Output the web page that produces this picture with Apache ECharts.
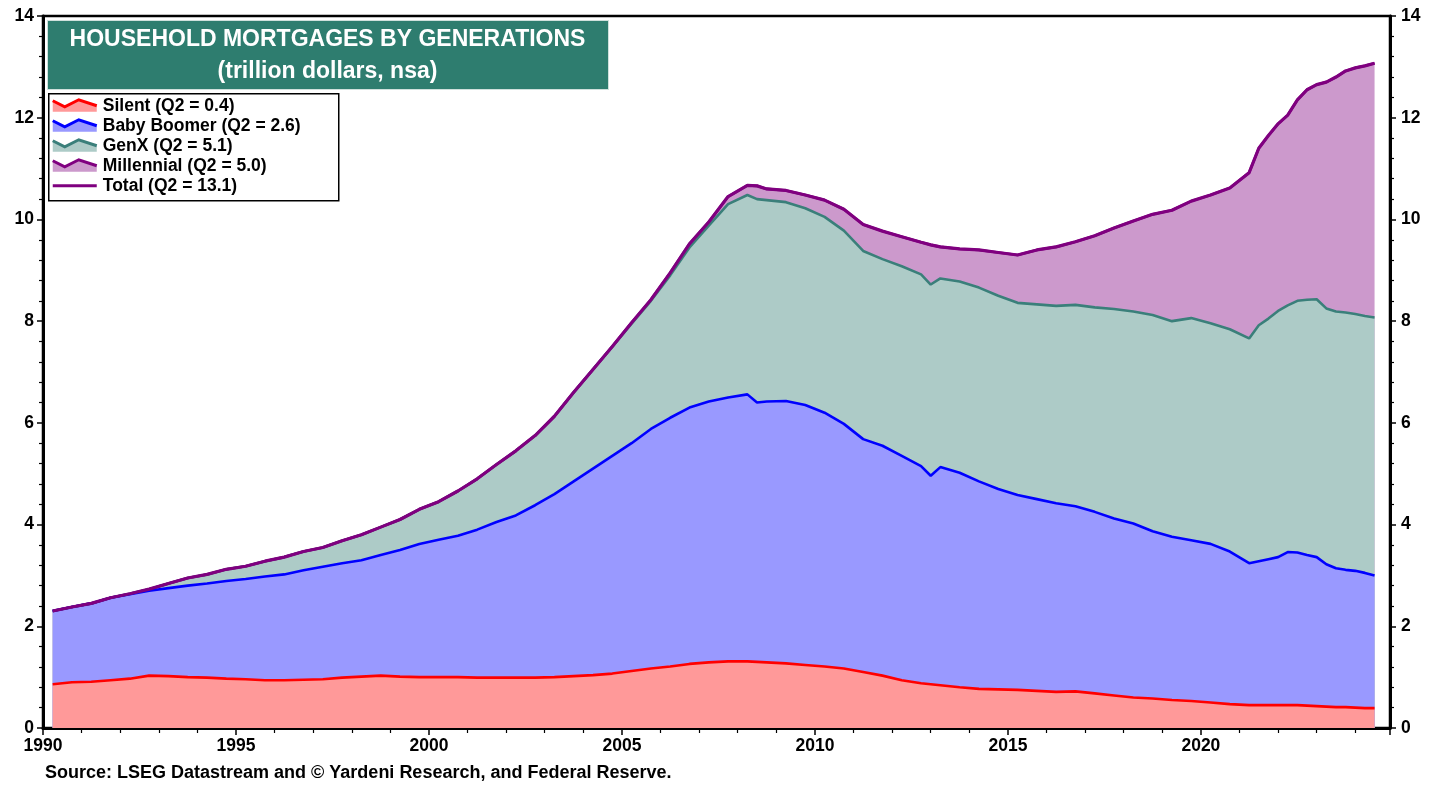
<!DOCTYPE html>
<html>
<head>
<meta charset="utf-8">
<script src="https://cdn.jsdelivr.net/npm/echarts@6/dist/echarts.min.js"></script>
<style>
  html, body { margin: 0; padding: 0; background: #ffffff; }
  #chart { width: 1442px; height: 791px; }
</style>
</head>
<body>
<div id="chart"></div>
<script>
// ---- Data (trillion dollars, nsa) ----
const dates = [
  1990.25, 1990.75, 1991.25, 1991.75, 1992.25, 1992.75, 1993.25, 1993.75, 1994.25, 1994.75,
  1995.25, 1995.75, 1996.25, 1996.75, 1997.25, 1997.75, 1998.25, 1998.75, 1999.25, 1999.75,
  2000.25, 2000.75, 2001.25, 2001.75, 2002.25, 2002.75, 2003.25, 2003.75, 2004.25, 2004.75,
  2005.25, 2005.75, 2006.25, 2006.75, 2007.25, 2007.75, 2008.25, 2008.5, 2008.75, 2009.25,
  2009.75, 2010.25, 2010.75, 2011.25, 2011.75, 2012.25, 2012.75, 2013.0, 2013.25, 2013.75,
  2014.25, 2014.75, 2015.25, 2015.75, 2016.25, 2016.75, 2017.25, 2017.75, 2018.25, 2018.75,
  2019.25, 2019.75, 2020.25, 2020.75, 2021.25, 2021.5, 2021.75, 2022.0, 2022.25, 2022.5,
  2022.75, 2023.0, 2023.25, 2023.5, 2023.75, 2024.0, 2024.25, 2024.5
];
const silent = [
  0.86, 0.90, 0.91, 0.94, 0.97, 1.03, 1.02, 1.00, 0.99, 0.97,
  0.96, 0.94, 0.94, 0.95, 0.96, 0.99, 1.01, 1.03, 1.01, 1.00,
  1.00, 1.00, 0.99, 0.99, 0.99, 0.99, 1.00, 1.02, 1.04, 1.07,
  1.12, 1.17, 1.21, 1.26, 1.29, 1.31, 1.31, 1.30, 1.29, 1.27,
  1.24, 1.21, 1.17, 1.10, 1.03, 0.94, 0.88, 0.86, 0.84, 0.80,
  0.77, 0.76, 0.75, 0.73, 0.71, 0.72, 0.68, 0.64, 0.60, 0.58,
  0.55, 0.53, 0.50, 0.47, 0.45, 0.45, 0.45, 0.45, 0.45, 0.45,
  0.44, 0.43, 0.42, 0.41, 0.41, 0.40, 0.39, 0.39
];
const babyBoomer = [
  1.44, 1.48, 1.54, 1.62, 1.66, 1.67, 1.73, 1.80, 1.85, 1.92,
  1.97, 2.04, 2.08, 2.15, 2.21, 2.25, 2.29, 2.37, 2.49, 2.62,
  2.70, 2.78, 2.91, 3.06, 3.19, 3.39, 3.60, 3.83, 4.06, 4.28,
  4.48, 4.71, 4.89, 5.04, 5.13, 5.19, 5.25, 5.10, 5.13, 5.16,
  5.11, 4.99, 4.81, 4.58, 4.52, 4.41, 4.27, 4.10, 4.29, 4.22,
  4.08, 3.94, 3.83, 3.77, 3.71, 3.64, 3.57, 3.48, 3.42, 3.29,
  3.21, 3.16, 3.12, 3.00, 2.79, 2.83, 2.87, 2.91, 3.01, 3.00,
  2.96, 2.93, 2.80, 2.73, 2.70, 2.69, 2.66, 2.61
];
const genX = [
  0.00, 0.00, 0.00, 0.00, 0.01, 0.03, 0.09, 0.15, 0.18, 0.23,
  0.25, 0.30, 0.34, 0.37, 0.38, 0.44, 0.50, 0.55, 0.60, 0.68,
  0.75, 0.88, 1.00, 1.13, 1.27, 1.37, 1.53, 1.75, 1.95, 2.15,
  2.35, 2.52, 2.80, 3.15, 3.46, 3.80, 3.92, 4.00, 3.96, 3.91,
  3.87, 3.85, 3.80, 3.70, 3.67, 3.73, 3.77, 3.76, 3.71, 3.76,
  3.81, 3.80, 3.78, 3.83, 3.88, 3.96, 4.02, 4.12, 4.17, 4.25,
  4.24, 4.37, 4.34, 4.37, 4.42, 4.64, 4.73, 4.84, 4.85, 4.95,
  5.02, 5.07, 5.03, 5.05, 5.06, 5.05, 5.05, 5.07
];
const millennial = [
  0.00, 0.00, 0.00, 0.00, 0.00, 0.00, 0.00, 0.00, 0.00, 0.00,
  0.00, 0.00, 0.00, 0.00, 0.00, 0.00, 0.00, 0.00, 0.00, 0.00,
  0.00, 0.00, 0.00, 0.00, 0.00, 0.00, 0.00, 0.00, 0.00, 0.00,
  0.02, 0.02, 0.05, 0.07, 0.07, 0.15, 0.19, 0.26, 0.22, 0.23,
  0.26, 0.33, 0.42, 0.52, 0.55, 0.58, 0.63, 0.78, 0.62, 0.64,
  0.74, 0.85, 0.94, 1.07, 1.16, 1.24, 1.41, 1.59, 1.78, 1.98,
  2.18, 2.30, 2.52, 2.78, 3.26, 3.48, 3.60, 3.68, 3.74, 3.95,
  4.13, 4.22, 4.45, 4.61, 4.75, 4.84, 4.92, 5.00
];
const yTicks = [0, 2, 4, 6, 8, 10, 12, 14];
const xTickYears = [1990, 1995, 2000, 2005, 2010, 2015, 2020];

const titleLines = ['HOUSEHOLD MORTGAGES BY GENERATIONS', '(trillion dollars, nsa)'];
const sourceText = 'Source: LSEG Datastream and \u00A9 Yardeni Research, and Federal Reserve.';

// ---- build stacked boundaries for drawing ----
const r2 = v => Math.round(v * 100) / 100;
function cumulative(arrs) {
  return dates.map((d, i) => [d, r2(arrs.reduce((s, a) => s + a[i], 0))]);
}
const last = a => a[a.length - 1];
const totalLast = r2(last(silent) + last(babyBoomer) + last(genX) + last(millennial));

const gens = [
  { name: 'Silent', arr: silent, line: '#FF0000', area: '#FF9999', stackOf: [silent] },
  { name: 'Baby Boomer', arr: babyBoomer, line: '#0000FF', area: '#9999FF', stackOf: [silent, babyBoomer] },
  { name: 'GenX', arr: genX, line: '#3A7F7A', area: '#ADCBC7', stackOf: [silent, babyBoomer, genX] },
  { name: 'Millennial', arr: millennial, line: '#800080', area: '#CC99CC', stackOf: [silent, babyBoomer, genX, millennial] }
];

const series = [];
// draw topmost band first so lower bands paint over it
for (let k = gens.length - 1; k >= 0; k--) {
  const g = gens[k];
  series.push({
    name: g.name,
    type: 'line',
    data: cumulative(g.stackOf),
    symbol: 'none',
    smooth: false,
    lineStyle: { color: g.line, width: 2.6 },
    itemStyle: { color: g.line },
    areaStyle: { color: g.area, opacity: 1, origin: 'start' },
    z: 2
  });
}
series.push({
  name: 'Total',
  type: 'line',
  data: cumulative([silent, babyBoomer, genX, millennial]),
  symbol: 'none',
  lineStyle: { color: '#7F007F', width: 3.2 },
  itemStyle: { color: '#7F007F' },
  z: 3
});

// ---- legend drawn as graphics (zigzag line with shaded area, like the reference) ----
const legendItems = gens.map(g => ({
  label: g.name + ' (Q2 = ' + last(g.arr).toFixed(1) + ')', line: g.line, area: g.area, zig: true
}));
legendItems.push({ label: 'Total (Q2 = ' + totalLast.toFixed(1) + ')', line: '#7F007F', zig: false });

const FONT = '"Liberation Sans", Arial, sans-serif';
const legendX = 48, legendY = 93, rowH = 20;
const legendChildren = [{
  type: 'rect',
  shape: { x: 0, y: 0, width: 290, height: 107 },
  style: { fill: '#ffffff', stroke: '#000000', lineWidth: 1.5 }
}];
legendItems.forEach((it, i) => {
  const cy = 11 + i * rowH;
  if (it.zig) {
    const pts = [[4, cy - 4], [16, cy + 2], [30, cy - 5], [48, cy + 1]];
    legendChildren.push({
      type: 'polygon',
      shape: { points: pts.concat([[48, cy + 7], [4, cy + 7]]) },
      style: { fill: it.area, stroke: null }
    });
    legendChildren.push({
      type: 'polyline',
      shape: { points: pts },
      style: { stroke: it.line, lineWidth: 3, fill: null }
    });
  } else {
    legendChildren.push({
      type: 'line',
      shape: { x1: 4, y1: cy + 1, x2: 48, y2: cy + 1 },
      style: { stroke: it.line, lineWidth: 3 }
    });
  }
  legendChildren.push({
    type: 'text',
    x: 54, y: cy + 1,
    style: {
      text: it.label, fill: '#000000', font: 'bold 17.5px ' + FONT,
      textVerticalAlign: 'middle', verticalAlign: 'middle'
    }
  });
});

const chart = echarts.init(document.getElementById('chart'), null, { renderer: 'canvas' });
const labelFont = { color: '#000000', fontSize: 17.5, fontWeight: 'bold', fontFamily: FONT };

chart.setOption({
  animation: false,
  backgroundColor: '#ffffff',
  grid: { left: 43, right: 52, top: 16, bottom: 63, show: true, borderColor: '#000000', borderWidth: 2.5, backgroundColor: 'transparent' },
  xAxis: {
    type: 'value',
    min: 1990,
    max: 2024.9,
    interval: 5,
    axisLine: { show: true, lineStyle: { color: '#000000', width: 3 } },
    axisTick: { show: true, inside: false, length: 7, lineStyle: { color: '#000000', width: 1.5 } },
    minorTick: { show: true, splitNumber: 5, length: 5, lineStyle: { color: '#000000', width: 1.2 } },
    splitLine: { show: false },
    axisLabel: Object.assign({}, labelFont, {
      margin: 9,
      formatter: v => (xTickYears.indexOf(Math.round(v)) >= 0 && Math.abs(v - Math.round(v)) < 1e-6) ? String(Math.round(v)) : ''
    })
  },
  yAxis: [
    {
      type: 'value', position: 'left', min: yTicks[0], max: last(yTicks), interval: 2,
      axisLine: { show: true, lineStyle: { color: '#000000', width: 3 } },
      axisTick: { show: true, inside: false, length: 6, lineStyle: { color: '#000000', width: 1.5 } },
      minorTick: { show: true, splitNumber: 5, length: 4, lineStyle: { color: '#000000', width: 1.2 } },
      splitLine: { show: false },
      axisLabel: Object.assign({}, labelFont, { margin: 9 })
    },
    {
      type: 'value', position: 'right', min: yTicks[0], max: last(yTicks), interval: 2,
      axisLine: { show: true, lineStyle: { color: '#000000', width: 3 } },
      axisTick: { show: true, inside: false, length: 6, lineStyle: { color: '#000000', width: 1.5 } },
      minorTick: { show: true, splitNumber: 5, length: 4, lineStyle: { color: '#000000', width: 1.2 } },
      splitLine: { show: false },
      axisLabel: Object.assign({}, labelFont, { margin: 11 })
    }
  ],
  series: series,
  graphic: [
    {
      type: 'group', left: 47, top: 20, z: 100,
      children: [
        { type: 'rect', shape: { x: 0, y: 0, width: 561, height: 69 }, style: { fill: '#2E7D6F', stroke: '#cfe0dc', lineWidth: 1 } },
        { type: 'text', x: 280, y: 19, style: { text: titleLines[0], fill: '#ffffff', font: 'bold 23px ' + FONT, textAlign: 'center', align: 'center', textVerticalAlign: 'middle', verticalAlign: 'middle' } },
        { type: 'text', x: 280, y: 51, style: { text: titleLines[1], fill: '#ffffff', font: 'bold 23px ' + FONT, textAlign: 'center', align: 'center', textVerticalAlign: 'middle', verticalAlign: 'middle' } }
      ]
    },
    { type: 'group', left: legendX, top: legendY, z: 100, children: legendChildren },
    {
      type: 'text', left: 45, top: 764, z: 100,
      style: { text: sourceText, fill: '#000000', font: 'bold 18px ' + FONT }
    }
  ]
});
</script>
</body>
</html>
